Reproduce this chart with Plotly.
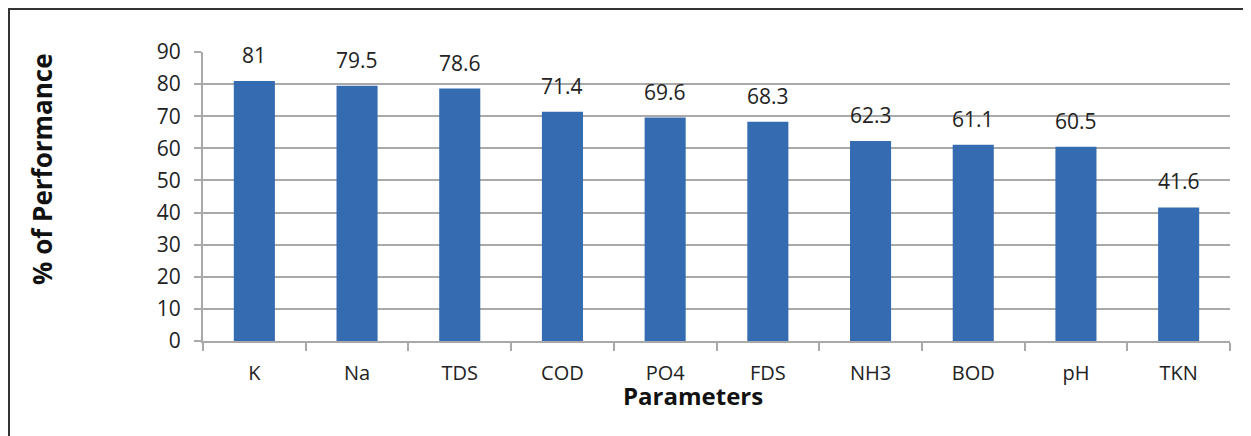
import plotly.graph_objs as go

# ----- data -----
parameters = ["K", "Na", "TDS", "COD", "PO4", "FDS", "NH3", "BOD", "pH", "TKN"]
performance = [81, 79.5, 78.6, 71.4, 69.6, 68.3, 62.3, 61.1, 60.5, 41.6]
value_labels = ["81", "79.5", "78.6", "71.4", "69.6", "68.3", "62.3", "61.1", "60.5", "41.6"]
y_ticks = [0, 10, 20, 30, 40, 50, 60, 70, 80, 90]

FONT = "Open Sans"
GRID = "#a9a9a9"

fig = go.Figure()

fig.add_trace(
    go.Bar(
        x=parameters,
        y=performance,
        width=0.4,
        marker=dict(color="#356cb1", line=dict(width=0)),
        hoverinfo="x+y",
    )
)

# value labels above the bars
for p, v, lab in zip(parameters, performance, value_labels):
    fig.add_annotation(
        x=p, y=v, text=lab, showarrow=False,
        yshift=26, font=dict(family=FONT, size=21, color="#222"),
    )

# page body adds an 8px margin, so the figure is a bit smaller than the window
fig.update_layout(
    width=1243,
    height=428,
    margin=dict(l=195, r=21, t=44, b=95),
    paper_bgcolor="white",
    plot_bgcolor="white",
    showlegend=False,
    font=dict(family=FONT, size=20, color="#222"),
)

fig.update_xaxes(
    showline=True, linecolor=GRID, linewidth=2,
    ticks="outside", tickson="boundaries", ticklen=8, tickcolor=GRID, tickwidth=2,
    showgrid=False,
    ticklabelstandoff=13,
    tickfont=dict(family=FONT, size=20, color="#222"),
)
fig.update_yaxes(
    range=[0, 90], tickvals=y_ticks,
    showline=True, linecolor=GRID, linewidth=2,
    ticks="outside", ticklen=7, tickcolor=GRID, tickwidth=2,
    showgrid=True, gridcolor=GRID, gridwidth=2,
    zeroline=False,
    ticklabelstandoff=9,
    tickfont=dict(family=FONT, size=21, color="#222"),
)

# axis titles
fig.add_annotation(
    xref="paper", yref="paper", x=-0.1568, y=0.595,
    xanchor="center", yanchor="middle",
    text="<b>% of Performance</b>", textangle=-90, showarrow=False,
    font=dict(family=FONT, size=26, color="#111"),
)
fig.add_annotation(
    xref="paper", yref="paper", x=0.477, y=-0.19,
    xanchor="center", yanchor="middle",
    text="<b>Parameters</b>", showarrow=False,
    font=dict(family=FONT, size=24, color="#111"),
)

# outer frame (only top/left edges are inside the image)
fig.add_shape(
    type="rect", xref="paper", yref="paper",
    x0=-194 / 1027, x1=1.1, y0=-0.5, y1=1 + 43 / 289,
    line=dict(color="#333", width=2), layer="below",
)

fig.write_html("out.html")
